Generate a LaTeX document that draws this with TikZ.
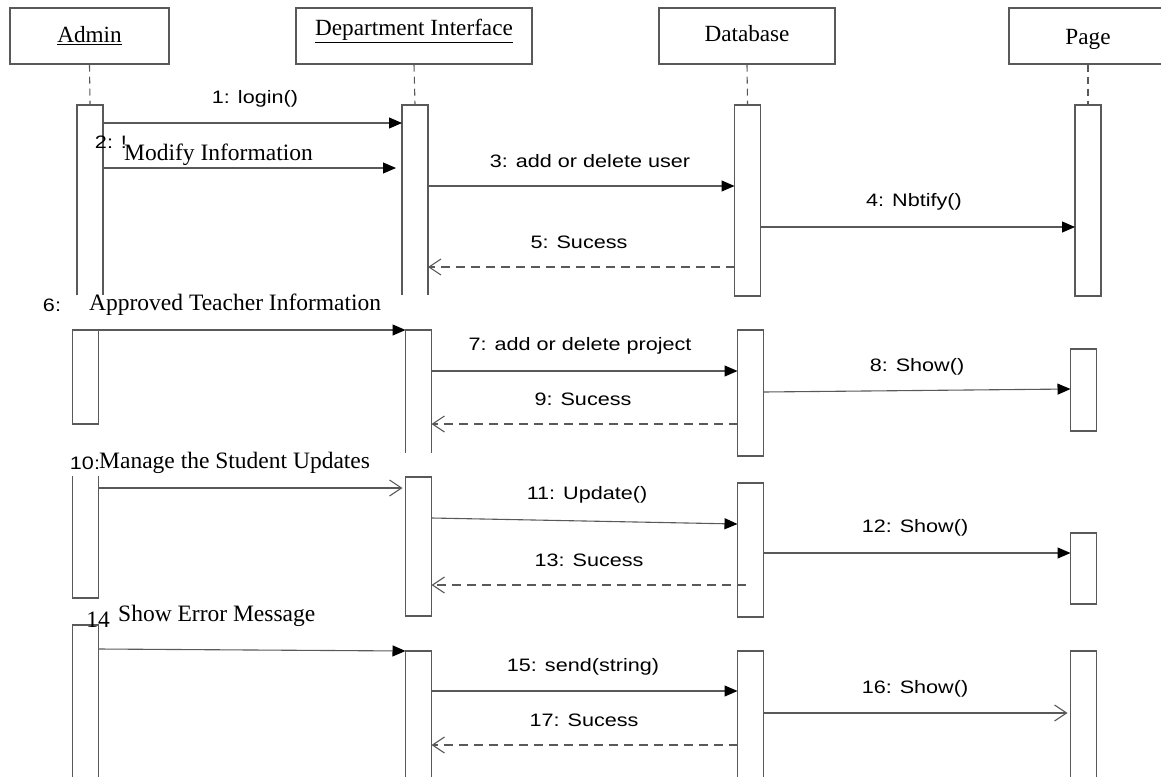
\documentclass[tikz,border=0pt]{standalone}
\usepackage{fontspec}
\setmainfont{Liberation Serif}
\newfontfamily\msgfont[FakeStretch=1.2]{Liberation Sans}
\usetikzlibrary{arrows.meta}

\begin{document}
\begin{tikzpicture}
  [x=1pt, y=-1pt]
  \tikzstyle{head} = [draw=black!65, line width=1.1pt, minimum height=56pt, inner sep=0pt, font=\fontsize{23.2}{26}\selectfont];
  \tikzstyle{bar}  = [draw=black!65, line width=1.1pt, minimum width=26pt, inner sep=0pt, outer sep=0pt];
  \tikzstyle{openbar} = [bar, draw=none];
  \tikzstyle{edge} = [draw=black!65, line width=1.1pt];
  \tikzstyle{life} = [edge, dash pattern=on 7pt off 5pt];
  \tikzstyle{call} = [edge, -{Triangle[length=13pt, width=11pt, black]}];
  \tikzstyle{send} = [edge, -{Straight Barb[length=12pt, width=16pt]}];
  \tikzstyle{back} = [send, dash pattern=on 9pt off 6pt];
  \tikzstyle{msg}  = [font=\msgfont\fontsize{18}{20}\selectfont, inner sep=1pt];
  \tikzstyle{note} = [font=\fontsize{23.5}{26}\selectfont, inner sep=1pt];

  \clip (0, 0) rectangle (1161, 776);

  \node[head, minimum width=159pt] (admin) at (89.5, 36) {\underline{Admin}};
  \node[head, minimum width=236pt, text depth=17pt] (dept) at (414, 36) {\underline{Department Interface}};
  \node[head, minimum width=176pt, text depth=6pt] (db) at (747, 36) {Database};
  \node[head, minimum width=158pt, text height=23pt] (page) at (1088, 36) {Page};

  \node[openbar, minimum height=190pt] (adm1) at (90, 200) {};
  \node[openbar, minimum height=190pt] (dep1) at (415, 200) {};
  \node[bar, minimum height=191pt] (db1) at (747.5, 200.5) {};
  \node[bar, minimum height=191pt] (pg1) at (1088, 200.5) {};

  \draw[edge] (adm1.south west) -- (adm1.north west) -- (adm1.north east) -- (adm1.south east);
  \draw[edge] (dep1.south west) -- (dep1.north west) -- (dep1.north east) -- (dep1.south east);

  \draw[life] (admin.south) -- (adm1.north);
  \draw[life] (dept.south) -- (dep1.north);
  \draw[life] (db.south) -- (db1.north);
  \draw[life] (page.south) -- (pg1.north);

  \node[bar, minimum height=94pt] (adm2) at (85.5, 377) {};
  \node[openbar, minimum height=123pt] (dep2) at (418.5, 391.5) {};
  \node[bar, minimum height=126pt] (db2) at (750.5, 393) {};
  \node[bar, minimum height=82pt] (pg2) at (1083.5, 390) {};

  \draw[edge] (dep2.south west) -- (dep2.north west) -- (dep2.north east) -- (dep2.south east);

  \node[openbar, minimum height=122pt] (adm3) at (85.5, 537) {};
  \node[bar, minimum height=139pt] (dep3) at (418.5, 546.5) {};
  \node[bar, minimum height=134pt] (db3) at (750.5, 550) {};
  \node[bar, minimum height=71pt] (pg3) at (1083.5, 568.5) {};

  \draw[edge] (adm3.north west) -- (adm3.south west) -- (adm3.south east) -- (adm3.north east);

  \node[bar, minimum height=175pt] (adm4) at (85.5, 712.5) {};
  \node[bar, minimum height=149pt] (dep4) at (418.5, 725.5) {};
  \node[bar, minimum height=149pt] (db4) at (750.5, 725.5) {};
  \node[bar, minimum height=149pt] (pg4) at (1083.5, 725.5) {};

  \node[msg] (m1) at (255, 99) {1: login()};
  \node[msg] (m2) at (111, 142) {2: !};
  \node[note, anchor=west] (m2b) at (123, 155) {Modify Information};
  \node[msg] (m3) at (590, 161) {3: add or delete user};
  \node[msg] (m4) at (914, 202) {4: Nbtify()};
  \node[msg] (m5) at (579, 242) {5: Sucess};

  \node[msg] (m6) at (52, 305) {6:};
  \node[note, anchor=west] (m6b) at (88, 305) {Approved Teacher Information};
  \node[msg] (m7) at (580, 346) {7: add or delete project};
  \node[msg] (m8) at (917, 367) {8: Show()};
  \node[msg] (m9) at (583, 399) {9: Sucess};

  \node[msg] (m10) at (85, 463) {10:};
  \node[note, anchor=west] (m10b) at (98, 463) {Manage the Student Updates};
  \node[msg] (m11) at (587, 495) {11: Update()};
  \node[msg] (m12) at (915, 528) {12: Show()};
  \node[msg] (m13) at (589, 560) {13: Sucess};

  \node[note] (m14) at (98, 620) {14};
  \node[note, anchor=west] (m14b) at (117, 616) {Show Error Message};
  \node[msg] (m15) at (583, 667) {15: send(string)};
  \node[msg] (m16) at (915, 689) {16: Show()};
  \node[msg] (m17) at (584, 720) {17: Sucess};

  \draw[call] (adm1.east |- 0, 123) -- (dep1.west |- 0, 123);
  \draw[call, shorten >=6pt] (adm1.east |- 0, 168) -- (dep1.west |- 0, 168);
  \draw[call] (dep1.east |- 0, 186) -- (db1.west |- 0, 186);
  \draw[call] (db1.east |- 0, 227) -- (pg1.west |- 0, 227);
  \draw[back] (db1.west |- 0, 267) -- (dep1.east |- 0, 267);

  \draw[call] (adm2.north east) -- (dep2.north west);
  \draw[call] (dep2.east |- 0, 371) -- (db2.west |- 0, 371);
  \draw[call] (db2.east |- 0, 392) -- (pg2.west |- 0, 389);
  \draw[back] (db2.west |- 0, 424) -- (dep2.east |- 0, 424);

  \draw[send, shorten >=3pt] (adm3.east |- 0, 488) -- (dep3.west |- 0, 488);
  \draw[call] (dep3.east |- 0, 518) -- (db3.west |- 0, 524);
  \draw[call] (db3.east |- 0, 553) -- (pg3.west |- 0, 553);
  \draw[back, shorten <=-8pt] (db3.west |- 0, 585) -- (dep3.east |- 0, 585);

  \draw[call] (adm4.east |- 0, 649) -- (dep4.north west);
  \draw[call] (dep4.east |- 0, 691) -- (db4.west |- 0, 691);
  \draw[send, shorten >=3pt] (db4.east |- 0, 713) -- (pg4.west |- 0, 713);
  \draw[back] (db4.west |- 0, 745) -- (dep4.east |- 0, 745);

\end{tikzpicture}
\end{document}
